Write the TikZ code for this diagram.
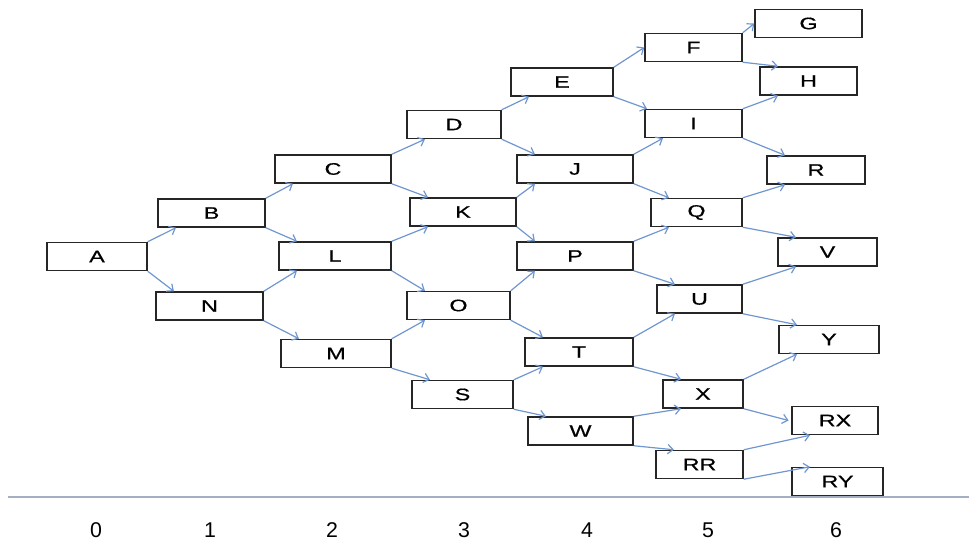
\documentclass[tikz,border=0pt]{standalone}
\usepackage{fontspec}
\setmainfont{Liberation Sans}
\newfontfamily\boxfont[FakeStretch=1.4, FakeBold=0.6]{Liberation Sans}
\usetikzlibrary{arrows.meta}
\definecolor{ArrowBlue}{RGB}{112,150,208}
\definecolor{AxisGray}{RGB}{165,175,195}

\begin{document}
\begin{tikzpicture}[
    x=0.75pt, y=-0.75pt,
     N/.style = {draw=black!85, line width=1.1pt, fill=white, minimum height=21pt,
                 inner sep=0pt, font=\fontsize{12.5}{14}\boxfont},
    wd/.style = {minimum width=#1*0.75pt},
   lnk/.style = {draw=ArrowBlue, line width=0.9pt, -{Straight Barb[length=4pt,width=7pt]}},
  tick/.style = {font=\fontsize{16}{18}\selectfont}
                        ]
\useasboundingbox (0,0) rectangle (969,542);
% stage 0 to 2
\node[N, wd=100] (A)  at (97,256.5)   {A};
\node[N, wd=107] (B)  at (211.5,213)  {B};
\node[N, wd=107] (N)  at (209.5,306)  {N};
\node[N, wd=116] (C)  at (333,169)    {C};
\node[N, wd=112] (L)  at (335,256)    {L};
\node[N, wd=110] (M)  at (336,353.5)  {M};
% stage 3
\node[N, wd=94]  (D)  at (454,124.5)  {D};
\node[N, wd=106] (K)  at (463,212)    {K};
\node[N, wd=103] (O)  at (458.5,305.5) {O};
\node[N, wd=101] (S)  at (462.5,394.5) {S};
% stage 4
\node[N, wd=102] (E)  at (562,82)     {E};
\node[N, wd=116] (J)  at (575,169)    {J};
\node[N, wd=116] (P)  at (575,256)    {P};
\node[N, wd=108] (T)  at (579,352)    {T};
\node[N, wd=105] (W)  at (580.5,431)  {W};
% stage 5
\node[N, wd=97]  (F)  at (693.5,47.5) {F};
\node[N, wd=97]  (I)  at (693.5,123.5) {I};
\node[N, wd=91]  (Q)  at (696.5,212.5) {Q};
\node[N, wd=85]  (U)  at (699.5,299)  {U};
\node[N, wd=80]  (X)  at (703,394)    {X};
\node[N, wd=87]  (RR) at (699.5,464.5) {RR};
% stage 6
\node[N, wd=107] (G)  at (808.5,23.5) {G};
\node[N, wd=97]  (H)  at (808.5,81)   {H};
\node[N, wd=98]  (R)  at (816,170)    {R};
\node[N, wd=99]  (V)  at (827.5,252)  {V};
\node[N, wd=100] (Y)  at (829,339.5)  {Y};
\node[N, wd=86]  (RX) at (835,420.5)  {RX};
\node[N, wd=91]  (RY) at (837.5,481.5) {RY};

% branches
\foreach \s/\t in {A/B, B/C, N/L, C/D, L/K, M/O, D/E, K/J, O/P, S/T,
                   J/I, P/Q, T/U, W/X, I/H, Q/R, U/V, X/Y, RR/RX}
    \draw[lnk] (\s.north east) -- ([xshift=14pt]\t.south west);
\foreach \s/\t in {A/N, B/L, N/M, C/K, L/O, M/S, D/J, K/P, O/T, S/W,
                   J/Q, P/U, T/X, W/RR, F/H, I/R, Q/V, U/Y, RR/RY}
    \draw[lnk] (\s.south east) -- ([xshift=14pt]\t.north west);
\draw[lnk] (E.north east) -- (F.west);
\draw[lnk] (F.north east) -- (G.west);
\draw[lnk] (E.south east) -- ([xshift=2pt]I.north west);
\draw[lnk] (X.south east) -- ([xshift=-2pt]RX.west);

% stage axis
\coordinate (axL) at (8,497);
\coordinate (axR) at (969,497);
\draw[AxisGray, line width=0.8pt] (axL) -- (axR);
\foreach \i/\x in {0/96, 1/210, 2/332, 3/464, 4/587, 5/708, 6/836}
    \node[tick] (t\i) at (\x,530) {\i};
\end{tikzpicture}
\end{document}
